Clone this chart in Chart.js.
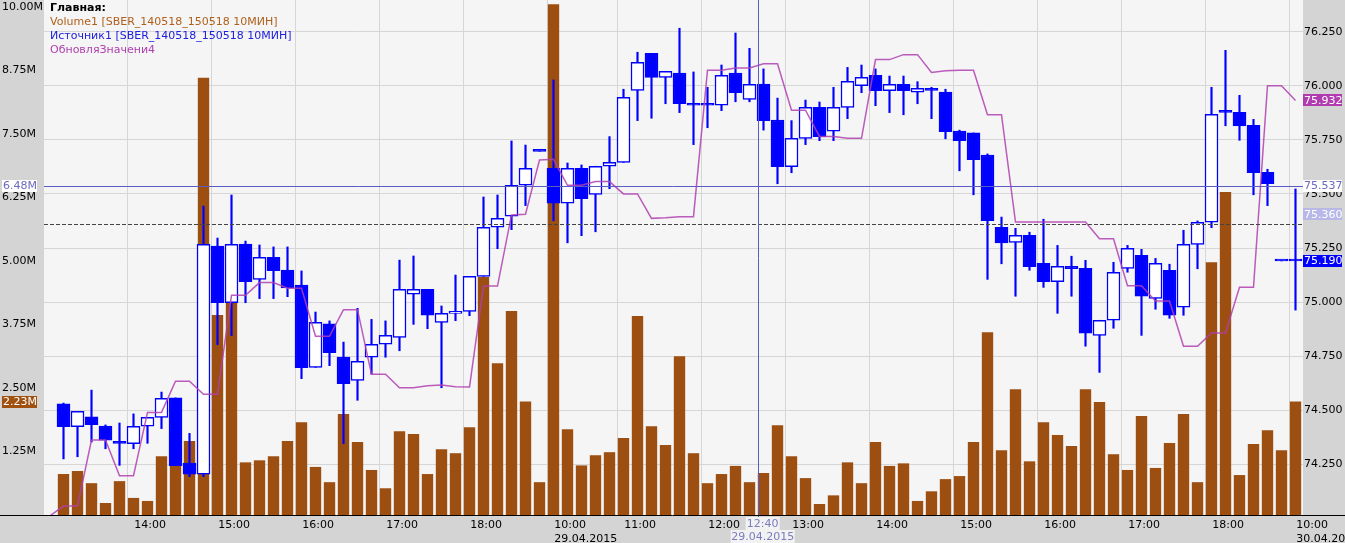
<!DOCTYPE html>
<html>
<head>
<meta charset="utf-8">
<script src="https://cdn.jsdelivr.net/npm/chart.js@4.4.0/dist/chart.umd.min.js"></script>
<style>
  html, body { margin: 0; padding: 0; background: #d4d4d4; }
  #wrap { position: relative; width: 1345px; height: 543px; }
  #legend { position: absolute; left: 50px; top: 1px; font: 11px "DejaVu Sans", sans-serif; line-height: 14px; white-space: nowrap; pointer-events: none; }
</style>
</head>
<body>
<div id="wrap">
  <canvas id="chart" width="1345" height="543"></canvas>
  <div id="legend">
    <div style="font-weight:bold;color:#000">Главная:</div>
    <div style="color:#b0601c">Volume1 [SBER_140518_150518 10МИН]</div>
    <div style="color:#2020e0">Источник1 [SBER_140518_150518 10МИН]</div>
    <div style="color:#b040b0">ОбновляЗначени4</div>
  </div>
</div>
<script>
// 10 minute candles, bar 0 = 13:10 28.04.2015
const opens = [74.529,74.424,74.469,74.427,74.347,74.345,74.426,74.467,74.557,74.256,
  74.204,75.259,74.997,75.268,75.105,75.207,75.148,75.079,74.698,74.899,
  74.746,74.638,74.745,74.805,74.837,75.036,75.059,74.906,74.948,74.957,
  75.119,75.346,75.397,75.540,75.697,75.618,75.457,75.618,75.498,75.628,
  75.646,75.979,76.150,76.039,76.059,75.919,75.919,75.910,76.059,75.937,
  76.008,75.842,75.626,75.757,75.900,75.790,75.900,76.000,76.048,75.977,
  76.007,75.970,75.979,75.971,75.791,75.782,75.680,75.346,75.276,75.309,
  75.179,75.094,75.165,75.156,74.846,74.916,75.156,75.216,75.017,75.147,
  74.976,75.267,75.369,75.887,75.877,75.817,75.600,75.190,75.190];
const highs = [74.533,74.495,74.593,74.432,74.441,74.483,74.467,74.584,74.557,74.393,
  75.444,75.296,75.495,75.282,75.264,75.255,75.255,75.144,74.954,74.913,
  74.815,74.971,74.920,74.913,75.194,75.213,75.059,74.982,75.125,75.119,
  75.486,75.495,75.745,75.726,75.697,76.027,75.643,75.634,75.628,75.765,
  75.984,76.155,76.150,76.067,76.266,76.064,75.993,76.096,76.244,76.173,
  76.078,75.943,75.839,75.934,75.925,75.993,76.085,76.096,76.078,76.045,
  76.045,76.019,75.993,75.984,75.795,75.782,75.685,75.393,75.341,75.323,
  75.383,75.262,75.212,75.193,74.916,75.184,75.262,75.244,75.202,75.175,
  75.332,75.375,75.993,76.164,75.956,75.845,75.614,75.190,75.523];
const lows = [74.275,74.285,74.353,74.322,74.245,74.322,74.347,74.415,74.244,74.193,
  74.193,74.803,74.845,74.997,75.016,75.016,75.025,74.646,74.698,74.706,
  74.345,74.546,74.667,74.745,74.775,74.897,74.877,74.604,74.914,74.937,
  75.119,75.247,75.335,75.446,75.697,75.376,75.274,75.307,75.325,75.524,
  75.646,75.839,75.850,75.917,75.876,75.728,75.806,75.885,75.926,75.926,
  75.795,75.547,75.598,75.728,75.746,75.746,75.848,75.968,75.908,75.876,
  75.866,75.917,75.848,75.755,75.607,75.496,75.105,75.177,75.027,75.147,
  75.068,74.948,75.027,74.796,74.675,74.879,75.138,74.846,74.967,74.925,
  74.939,75.154,75.344,75.815,75.748,75.496,75.446,75.190,74.963];
const closes = [74.424,74.495,74.433,74.362,74.347,74.426,74.467,74.555,74.244,74.204,
  75.267,74.997,75.267,75.094,75.207,75.145,75.066,74.697,74.906,74.766,
  74.623,74.726,74.805,74.846,75.059,75.059,74.939,74.948,74.957,75.119,
  75.346,75.387,75.540,75.618,75.697,75.457,75.618,75.478,75.628,75.646,
  75.947,76.109,76.039,76.067,75.917,75.910,75.910,76.048,75.968,76.007,
  75.839,75.626,75.757,75.900,75.765,75.900,76.021,76.039,75.977,76.007,
  75.977,75.988,75.979,75.788,75.746,75.658,75.376,75.274,75.309,75.164,
  75.094,75.165,75.154,74.856,74.916,75.138,75.249,75.027,75.179,74.939,
  75.267,75.369,75.868,75.877,75.815,75.598,75.547,75.190,75.190];
// volume in millions
const volumes = [0.80,0.86,0.62,0.23,0.66,0.33,0.27,1.15,1.60,1.45,
  8.60,3.93,4.83,1.03,1.07,1.15,1.45,1.82,0.94,0.64,
  1.98,1.43,0.88,0.52,1.64,1.59,0.80,1.29,1.21,1.72,
  4.68,2.98,4.01,2.23,0.64,10.05,1.68,0.97,1.17,1.23,
  1.51,3.91,1.74,1.37,3.12,1.21,0.62,0.80,0.96,0.64,
  0.82,1.76,1.15,0.72,0.21,0.38,1.03,0.62,1.43,0.96,
  1.01,0.27,0.46,0.70,0.76,1.43,3.59,1.27,2.47,1.05,
  1.82,1.57,1.35,2.47,2.22,1.19,0.88,1.94,0.92,1.41,
  1.98,0.64,4.97,6.35,0.78,1.39,1.66,1.27,2.23];
// ОбновляЗначени4, first value belongs to the bar before bar 0
const signal = [74.010,
  74.057,74.057,74.362,74.362,74.197,74.197,74.490,74.490,74.634,74.634,
  74.574,74.574,75.031,75.031,75.090,75.090,75.064,75.064,74.842,74.842,
  74.965,74.965,74.666,74.666,74.604,74.604,74.613,74.617,74.609,74.607,
  75.074,75.074,75.403,75.406,75.657,75.660,75.540,75.540,75.557,75.557,
  75.500,75.500,75.387,75.390,75.395,75.395,76.072,76.072,76.082,76.082,
  76.102,76.102,75.887,75.887,75.766,75.766,75.757,75.757,76.121,76.121,
  76.144,76.144,76.062,76.070,76.072,76.072,75.866,75.866,75.370,75.370,
  75.370,75.370,75.370,75.370,75.293,75.293,75.076,75.076,75.005,75.005,
  74.796,74.796,74.857,74.857,75.068,75.068,76.000,76.000,75.932];

const priceTicks = [74.25, 74.5, 74.75, 75, 75.25, 75.5, 75.75, 76, 76.25];
const volumeTicks = [1.25, 2.5, 3.75, 5, 6.25, 7.5, 8.75, 10];
const timeTickBars = [5, 11, 17, 23, 29, 35, 40, 46, 52, 58, 64, 70, 76, 82, 88];
const timeTickLabels = ['14:00', '15:00', '16:00', '17:00', '18:00', ['10:00', '29.04.2015'],
  '11:00', '12:00', '13:00', '14:00', '15:00', '16:00', '17:00', '18:00', ['10:00', '30.04.2015']];

// crosshair and markers
const cursorBar = 50, cursorTime = '12:40', cursorDate = '29.04.2015';
const cursorPrice = 75.537, cursorVolume = 6.48;
const markerPrice = 75.36, lastPrice = 75.19, lastSignal = 75.932, lastVolume = 2.23;

const BLUE = '#0000ff';
const font = { family: '"DejaVu Sans", sans-serif', size: 11 };
const slot = 0.414; // grid line sits at the left edge of the bar slot

const idx = opens.map((_, i) => i);

function badge(ctx, x, y, w, text, bg, fg) {
  ctx.fillStyle = bg;
  ctx.fillRect(x, Math.round(y) - 6, w, 12);
  ctx.fillStyle = fg;
  ctx.textAlign = 'left';
  ctx.textBaseline = 'middle';
  ctx.fillText(text, x + 1, y + 0.5);
}

// fixed axis sizes, no extra padding for edge labels
function fixSize(w, h) {
  return s => {
    if (w) s.width = w;
    if (h) s.height = h;
    s.paddingTop = s.paddingBottom = s.paddingLeft = s.paddingRight = 0;
  };
}

const decor = {
  id: 'decor',
  beforeDraw(chart) {
    const { ctx, chartArea: a } = chart;
    ctx.save();
    ctx.fillStyle = '#d4d4d4';
    ctx.fillRect(0, 0, chart.width, chart.height);
    ctx.fillStyle = '#f5f5f5';
    ctx.fillRect(a.left, a.top, a.right - a.left, a.bottom - a.top);
    ctx.restore();
  },
  afterDatasetsDraw(chart) {
    const { ctx, chartArea: a, scales } = chart;
    ctx.save();
    // dashed level
    const yd = Math.round(scales.y.getPixelForValue(markerPrice)) + 0.5;
    ctx.strokeStyle = '#444';
    ctx.lineWidth = 1;
    ctx.setLineDash([4, 2]);
    ctx.beginPath(); ctx.moveTo(a.left, yd); ctx.lineTo(a.right, yd); ctx.stroke();
    ctx.setLineDash([]);
    // crosshair
    ctx.strokeStyle = '#5b5bc4';
    const yc = Math.round(scales.y.getPixelForValue(cursorPrice)) + 0.5;
    ctx.beginPath(); ctx.moveTo(a.left, yc); ctx.lineTo(a.right, yc); ctx.stroke();
    const xc = Math.round(scales.x.getPixelForValue(cursorBar - slot)) + 0.5;
    ctx.beginPath(); ctx.moveTo(xc, a.top); ctx.lineTo(xc, a.bottom + 2); ctx.stroke();
    ctx.restore();
  },
  afterDraw(chart) {
    const { ctx, chartArea: a, scales } = chart;
    ctx.save();
    ctx.strokeStyle = '#000';
    ctx.lineWidth = 1;
    ctx.beginPath(); ctx.moveTo(0, a.bottom + 0.5); ctx.lineTo(chart.width, a.bottom + 0.5); ctx.stroke();
    ctx.font = '11px "DejaVu Sans", sans-serif';
    const rx = a.right;
    badge(ctx, rx, scales.y.getPixelForValue(lastSignal), 39, lastSignal.toFixed(3), '#b03cb0', '#fff');
    badge(ctx, rx, scales.y.getPixelForValue(cursorPrice), 39, cursorPrice.toFixed(3), '#fff', '#6a6ac0');
    badge(ctx, rx, scales.y.getPixelForValue(markerPrice) - 10, 39, markerPrice.toFixed(3), '#b8b8e8', '#fff');
    badge(ctx, rx, scales.y.getPixelForValue(lastPrice), 39, lastPrice.toFixed(3), BLUE, '#fff');
    badge(ctx, 2, scales.yVol.getPixelForValue(cursorVolume), 35, cursorVolume.toFixed(2) + 'M', '#fff', '#6a6ac0');
    badge(ctx, 2, scales.yVol.getPixelForValue(lastVolume), 35, lastVolume.toFixed(2) + 'M', '#a0500f', '#fff');
    // cursor labels on the time axis
    const xc = scales.x.getPixelForValue(cursorBar - slot) + 5;
    ctx.fillStyle = '#f2f2f2';
    ctx.fillRect(xc - 17, a.bottom + 2, 34, 13);
    ctx.fillRect(xc - 32, a.bottom + 15, 64, 13);
    ctx.fillStyle = '#7b7bbe';
    ctx.textAlign = 'center';
    ctx.textBaseline = 'middle';
    ctx.fillText(cursorTime, xc, a.bottom + 9);
    ctx.fillText(cursorDate, xc, a.bottom + 22);
    ctx.restore();
  }
};

new Chart(document.getElementById('chart').getContext('2d'), {
  type: 'bar',
  data: {
    datasets: [
      {
        type: 'line',
        data: signal.map((v, i) => ({ x: i - 1, y: v })),
        yAxisID: 'y',
        borderColor: 'rgba(176,64,176,0.85)',
        borderWidth: 1.5,
        pointRadius: 0,
        tension: 0,
        order: 0
      },
      {
        data: idx.map(i => ({ x: i, y: [Math.min(opens[i], closes[i]), Math.max(opens[i], closes[i])] })),
        yAxisID: 'y',
        backgroundColor: idx.map(i => closes[i] > opens[i] ? '#ffffff' : BLUE),
        borderColor: BLUE,
        borderWidth: 1.5,
        borderSkipped: false,
        barThickness: 13,
        minBarLength: 2,
        grouped: false,
        order: 1
      },
      {
        data: idx.map(i => ({ x: i, y: [lows[i], highs[i]] })),
        yAxisID: 'y',
        backgroundColor: BLUE,
        borderWidth: 0,
        barThickness: 1.5,
        grouped: false,
        order: 2
      },
      {
        data: idx.map(i => ({ x: i, y: volumes[i] })),
        yAxisID: 'yVol',
        backgroundColor: '#9d4f12',
        borderWidth: 0,
        barThickness: 10.7,
        grouped: false,
        order: 3
      }
    ]
  },
  options: {
    responsive: false,
    devicePixelRatio: 1,
    animation: false,
    layout: { padding: { left: 2, right: 0, top: 0, bottom: 0 }, autoPadding: false },
    plugins: { legend: { display: false }, tooltip: { enabled: false } },
    scales: {
      x: {
        type: 'linear',
        min: -1.393,
        max: 88.536,
        offset: false,
        grid: { color: '#d6d6d6', drawTicks: false, offset: false },
        border: { display: false },
        ticks: {
          autoSkip: false, maxRotation: 0, minRotation: 0, align: 'start', labelOffset: 6.5,
          padding: 4, color: '#000', font: font,
          callback: (v, i) => timeTickLabels[i]
        },
        afterBuildTicks: s => { s.ticks = timeTickBars.map(b => ({ value: b - slot })); },
        afterFit: fixSize(0, 28)
      },
      y: {
        position: 'right',
        min: 74.0156,
        max: 76.3966,
        grid: { color: '#d6d6d6', drawTicks: false },
        border: { display: false },
        ticks: { autoSkip: false, padding: 1, color: '#000', font: font, callback: v => v.toFixed(3) },
        afterBuildTicks: s => { s.ticks = priceTicks.map(v => ({ value: v })); },
        afterFit: fixSize(42, 0)
      },
      yVol: {
        position: 'left',
        min: 0,
        max: 10.138,
        grid: { display: false, drawTicks: false },
        border: { display: false },
        ticks: { autoSkip: false, padding: 0, crossAlign: 'far', color: '#000', font: font, callback: v => v.toFixed(2) + 'M' },
        afterBuildTicks: s => { s.ticks = volumeTicks.map(v => ({ value: v })); },
        afterFit: fixSize(42, 0)
      }
    }
  },
  plugins: [decor]
});
</script>
</body>
</html>
